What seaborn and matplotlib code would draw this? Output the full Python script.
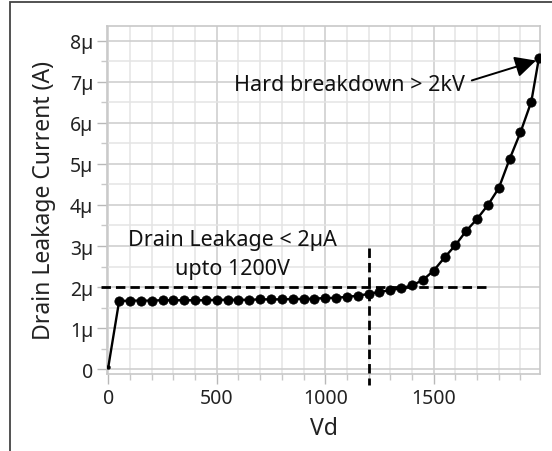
import numpy as np
import pandas as pd
import matplotlib
matplotlib.use("Agg")
import matplotlib.pyplot as plt
import seaborn as sns
from matplotlib.ticker import MultipleLocator, FuncFormatter
from matplotlib.patches import Rectangle

# ---- data ----
vd = [0, 50, 100, 150, 200, 250, 300, 350, 400, 450, 500, 550, 600, 650, 700,
      750, 800, 850, 900, 950, 1000, 1050, 1100, 1150, 1200, 1250, 1300, 1350,
      1400, 1450, 1500, 1550, 1600, 1650, 1700, 1750, 1800, 1850, 1900, 1950, 1985]
leak_uA = [0.05, 1.66, 1.67, 1.67, 1.67, 1.68, 1.68, 1.68, 1.68, 1.68, 1.69, 1.69,
           1.69, 1.69, 1.70, 1.70, 1.70, 1.71, 1.71, 1.72, 1.73, 1.74, 1.76, 1.79,
           1.83, 1.88, 1.92, 1.97, 2.04, 2.17, 2.40, 2.72, 3.02, 3.37, 3.66, 4.00,
           4.41, 5.12, 5.77, 6.52, 7.58]
ytick_vals = [0, 1, 2, 3, 4, 5, 6, 7, 8]

df = pd.DataFrame({"Vd": vd, "I": np.array(leak_uA) * 1e-6})

sns.set_theme(style="white")
plt.rcParams["font.family"] = ["Noto Sans", "DejaVu Sans"]

fig = plt.figure(figsize=(5.52, 4.52), dpi=100)
ax = fig.add_axes([107 / 552, 1 - 375 / 452, (540 - 107) / 552, (375 - 26.7) / 452])

# grid
ax.set_axisbelow(True)
ax.xaxis.set_major_locator(MultipleLocator(500))
ax.xaxis.set_minor_locator(MultipleLocator(100))
ax.yaxis.set_major_locator(MultipleLocator(1e-6))
ax.yaxis.set_minor_locator(MultipleLocator(0.5e-6))
ax.grid(which="major", color="#cfcfcf", lw=1.2)
ax.grid(which="minor", color="#e4e4e4", lw=1.1)

# data line
sns.lineplot(data=df, x="Vd", y="I", ax=ax, color="black", lw=1.7, zorder=4)
sns.scatterplot(data=df.iloc[1:], x="Vd", y="I", ax=ax, color="black", s=45,
                edgecolor="black", linewidth=0.5, zorder=5)
sns.scatterplot(data=df.iloc[:1], x="Vd", y="I", ax=ax, color="black", s=8,
                edgecolor="black", linewidth=0.3, zorder=5)

# dashed guide lines
ax.plot([-35, 1750], [2e-6, 2e-6], color="black", lw=2.0, dashes=(3.4, 1.8),
        clip_on=False, zorder=3)
ax.plot([1200, 1200], [2.95e-6, -0.4e-6], color="black", lw=2.0, dashes=(3.4, 1.8),
        clip_on=False, zorder=3)

ax.set_xlim(-6, 1990)
ax.set_ylim(-0.12e-6, 8.37e-6)

ax.yaxis.set_major_formatter(FuncFormatter(lambda v, p: "0" if abs(v) < 1e-9 else f"{v*1e6:.0f}\u00b5"))
ax.tick_params(axis="both", which="major", direction="out", length=7, width=1,
               color="#b8b8b8", labelsize=14, labelcolor="#222222", pad=3, left=True, bottom=True)
ax.tick_params(axis="both", which="minor", direction="out", length=4, width=1,
               color="#c8c8c8", left=True, bottom=True)
for s in ax.spines.values():
    s.set_color("#c8c8c8")
    s.set_linewidth(1.2)

ax.set_xlabel("Vd", fontsize=16.5, color="#222222", labelpad=6)
ax.set_ylabel("Drain Leakage Current (A)", fontsize=16.5, color="#222222", labelpad=10)

# annotations
ax.annotate("Hard breakdown > 2kV", xy=(1972, 7.52e-6), xytext=(1110, 6.93e-6),
            ha="center", va="center", fontsize=15.5, color="#111111",
            arrowprops=dict(arrowstyle="-|>", color="black", lw=1.4, mutation_scale=32,
                            shrinkA=3, shrinkB=0, relpos=(1.0, 0.6)))
ax.text(572, 3.17e-6, "Drain Leakage < 2\u00b5A", ha="center", va="center",
        fontsize=15.5, color="#111111")
ax.text(572, 2.44e-6, "upto 1200V", ha="center", va="center",
        fontsize=15.5, color="#111111")

# outer frame of the figure
fig.add_artist(Rectangle((10 / 552, -0.2), 1.5, 1 - 3 / 452 + 0.2,
                         transform=fig.transFigure, fill=False, ec="#444444", lw=1.3))

fig.savefig("out.png", dpi=100)
